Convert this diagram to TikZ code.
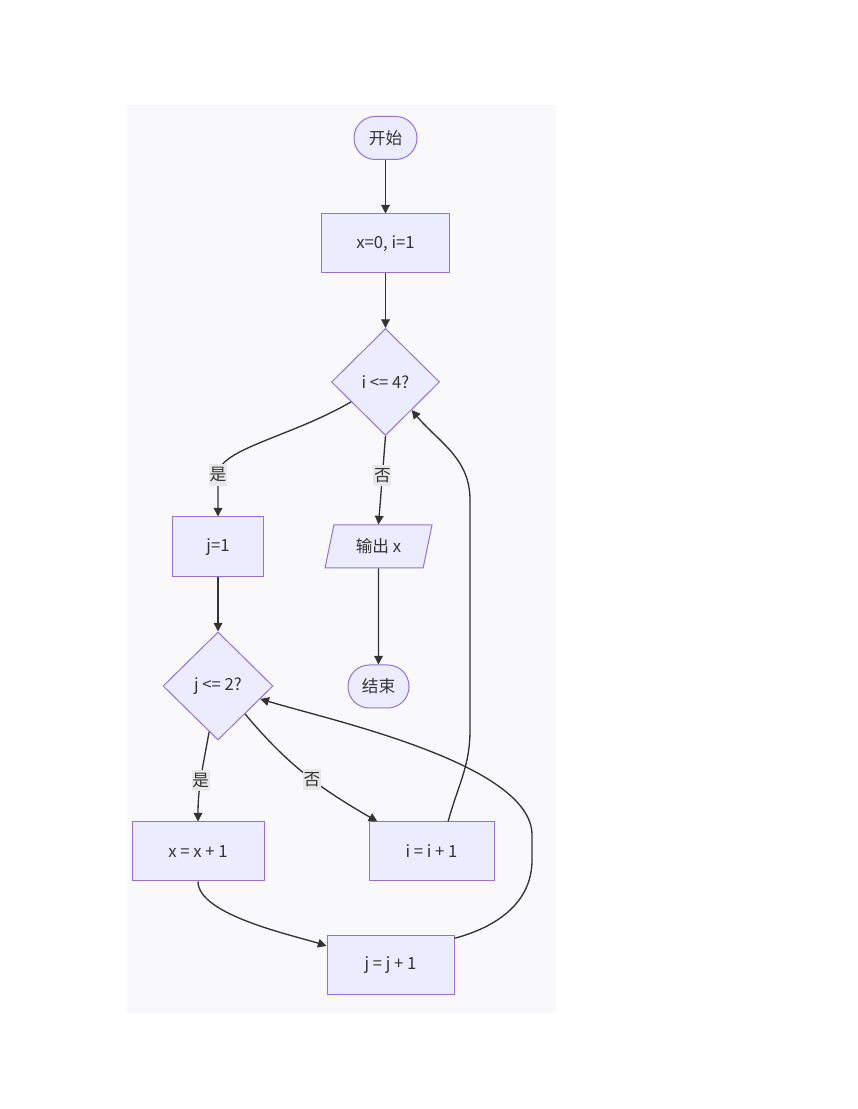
\documentclass[tikz,border=0pt]{standalone}
\usepackage{fontspec}
\setmainfont{Noto Sans CJK SC}
\usetikzlibrary{shapes.geometric,arrows.meta}
\definecolor{nodefill}{HTML}{ECECFF}
\definecolor{nodeline}{HTML}{9370DB}
\definecolor{edgeline}{HTML}{333333}
\definecolor{labelfill}{HTML}{E8E8E8}
\definecolor{canvas}{HTML}{F9F9FB}
\begin{document}
\begin{tikzpicture}[x=0.75pt,y=0.75pt,
	every node/.style={font=\fontsize{12.5}{15}\selectfont,text=edgeline},
	box/.style={draw=nodeline,fill=nodefill,line width=0.75pt,inner sep=0pt},
	proc/.style={box,rectangle,minimum height=44.25pt},
	term/.style={box,rectangle,rounded corners=16pt,minimum height=32.25pt},
	cond/.style={box,diamond,aspect=1},
	io/.style={box,trapezium,trapezium left angle=60,trapezium right angle=120,trapezium stretches body=true,minimum height=32.25pt,minimum width=80.25pt},
	lbl/.style={fill=labelfill,inner xsep=0.5pt,inner ysep=2.5pt},
	arr/.style={draw=edgeline,line width=1pt,-{Triangle[length=6.5pt,width=6.5pt]}}]
			\useasboundingbox (0,0) rectangle (857,1109);
			\fill[white] (0,0) rectangle (857,1109);
			\fill[canvas] (127,96) rectangle (556,1004);
			\node[term,minimum width=47.25pt] (st) at (385.5,971) {开始};
			\node[proc,minimum width=96pt] (init) at (385.5,865.5) {x=0, i=1};
			\node[cond,minimum width=81pt,minimum height=80.25pt] (d1) at (385.5,727) {i <= 4?};
			\node[proc,minimum width=68.25pt,minimum height=45pt] (j1) at (218,562) {j=1};
			\node[io] (outx) at (378.5,562.5) {输出 x};
			\node[term,minimum width=45.75pt] (stop) at (378.5,422.5) {结束};
			\node[cond,minimum width=82.5pt,minimum height=81pt] (d2) at (218,423) {j <= 2?};
			\node[proc,minimum width=99pt] (x1) at (198,257.5) {x = x + 1};
			\node[proc,minimum width=93.75pt] (i1) at (431.5,257.5) {i = i + 1};
			\node[proc,minimum width=95.25pt] (j2) at (390.5,143.5) {j = j + 1};
			\draw[arr] (st) -- (init);
			\draw[arr] (init) -- (d1);
			\draw[arr] (d1.210) .. controls (291,672) and (218,660) .. (218,634) node[lbl] {是} -- (j1.north);
			\draw[arr] (d1.south) -- node[lbl,pos=0.45] {否} (outx.north);
			\draw[arr] (outx) -- (stop);
			\draw[arr] (j1) -- (d2);
			\draw[arr] (d2.259) to[out=260,in=90] node[lbl,pos=0.55] {是} (x1.north);
			\draw[arr] (d2.314) to[out=-50,in=150] node[lbl,pos=0.55] {否} (i1.151);
			\draw[arr] (i1.61) to[out=75,in=-90] (470,379) -- (470,609) to[out=90,in=-50] (d1.313);
			\draw[arr] (x1.south) to[out=-90,in=162,looseness=0.6] (j2.163);
			\draw[arr] (j2.23) to[out=15,in=-90] (532,249) -- (532,274) to[out=90,in=-17,looseness=0.6] (d2.343);
			\end{tikzpicture}
\end{document}
